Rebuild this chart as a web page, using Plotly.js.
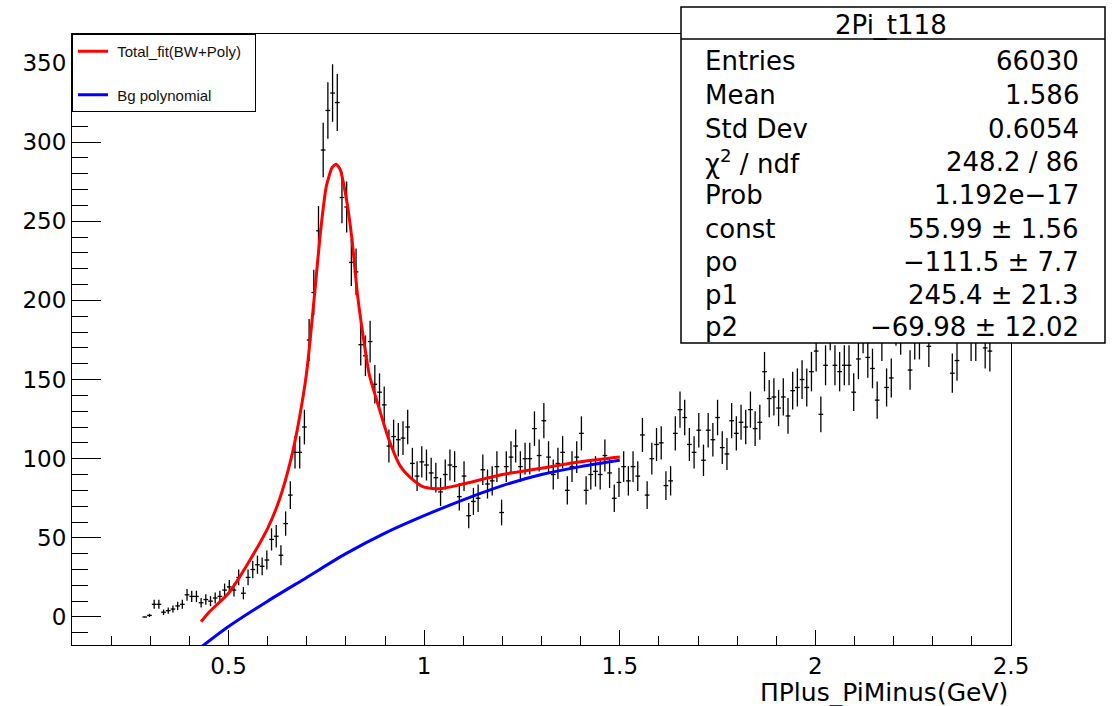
<!DOCTYPE html>
<html>
<head>
<meta charset="utf-8">
<script src="https://cdn.plot.ly/plotly-3.0.1.min.js"></script>
<style>
html,body{margin:0;padding:0;background:#fff;}
#chart{width:1114px;height:706px;}
</style>
</head>
<body>
<div id="chart"></div>
<script>
// Histogram: first bin centre and bin width (fed to Plotly as x0/dx)
const binStart = 0.286;
const binWidth = 0.012;
// Bin contents (0.286 ... 2.446)
const counts = [
  0, 1, 8, 8, 3, 4, 5, 7, 8, 14,
  13, 13, 9, 11, 10, 12, 13, 17, 19, 17,
  25, 15, 25, 30, 33, 32, 36, 49, 51, 39,
  59, 77, 104, 104, 120, 175, 205, 244, 295, 320,
  331, 325, 265, 259, 224, 218, 172, 165, 174, 147,
  142, 134, 108, 114, 112, 113, 120, 97, 89, 98,
  96, 91, 88, 79, 90, 96, 95, 76, 89, 64,
  73, 75, 93, 84, 86, 95, 66, 95, 101, 108,
  95, 100, 100, 119, 102, 124, 101, 90, 97, 104,
  80, 95, 101, 116, 80, 90, 92, 90, 102, 91,
  75, 85, 95, 86, 95, 89, 115, 77, 100, 109,
  110, 83, 86, 116, 131, 126, 109, 104, 118, 99,
  118, 112, 126, 107, 103, 124, 116, 123, 120, 131,
  119, 123, 155, 138, 139, 132, 139, 127, 143, 145,
  150, 145, 155, 168, 128, 159, 182, 159, 155, 159,
  159, 142, 163, 180, 164, 157, 137, 175, 145, 151,
  185, 179, 195, 156, 176, 176, 195, 171, 200, 195,
  205, 190, 154, 162, 198, 192, 175, 175, 190, 170,
  168
];

// Total fit curve (BW + poly)
const fitX = [0.43, 0.45, 0.50, 0.55, 0.60, 0.63, 0.66, 0.68, 0.70, 0.72, 0.735, 0.75, 0.765, 0.775, 0.785, 0.80, 0.815, 0.83, 0.845, 0.86, 0.88, 0.91, 0.94, 0.97, 1.00, 1.04, 1.10, 1.20, 1.30, 1.40, 1.50];
const fitY = [-3, 3, 15, 34, 56, 74, 100, 124, 155, 204, 243, 272, 284, 286, 283, 266, 240, 203, 176, 153, 136, 112, 95, 87, 82, 81, 84, 90, 94, 98, 101];

// Background polynomial
const bgX = [0.43, 0.50, 0.60, 0.70, 0.80, 0.90, 1.00, 1.10, 1.20, 1.30, 1.40, 1.50];
const bgY = [-19, -6, 10, 25, 40, 53, 64, 74, 83, 90, 95, 99];

// Legend / stats texts
const legendNames = ['Total_fit(BW+Poly)', 'Bg polynomial'];
const statsTitle = '2Pi_t118';
const statsLabels = ['Entries', 'Mean', 'Std Dev', 'χ<sup>2</sup> / ndf', 'Prob', 'const', 'po', 'p1', 'p2'];
const statsValues = ['66030', '1.586', '0.6054', '248.2 / 86', '1.192e−17', '55.99 ± 1.56', '−111.5 ± 7.7', '245.4 ± 21.3', '−69.98 ± 12.02'];
const xTitle = 'ΠPlus_PiMinus(GeV)';

const FONT = 'DejaVu Sans, Liberation Sans, Arial, sans-serif';
const LFONT = 'Liberation Sans, Arial, sans-serif';

const traces = [
  {
    type: 'scatter', mode: 'markers',
    y: counts, x0: binStart, dx: binWidth,
    marker: {size: 1, color: 'black'},
    error_y: {type: 'sqrt', color: 'black', thickness: 1.3, width: 0},
    error_x: {type: 'constant', value: binWidth / 2, color: 'black', thickness: 1.3, width: 0},
    showlegend: false, hoverinfo: 'x+y'
  },
  {
    type: 'scatter', mode: 'lines', x: bgX, y: bgY,
    line: {color: '#0000ff', width: 3, shape: 'spline', smoothing: 0.8},
    name: '\u00a0' + legendNames[1], legendgroup: 'b', legendrank: 2
  },
  {
    type: 'scatter', mode: 'lines', x: fitX, y: fitY,
    line: {color: '#ff0000', width: 3, shape: 'spline', smoothing: 0.6},
    name: '\u00a0' + legendNames[0] + '\u00a0\u00a0', legendgroup: 'a', legendrank: 1
  }
];

// plot-area geometry in pixels (for placing the stats box)
const L = 72, R = 1011, T = 34, B = 645;
const px = v => (v - L) / (R - L);
const py = v => (B - v) / (B - T);

const shapes = [
  {type: 'rect', xref: 'paper', yref: 'paper', x0: px(681), x1: px(1105), y0: py(343), y1: py(7),
   fillcolor: 'white', line: {color: 'black', width: 1.5}, layer: 'above'},
  {type: 'line', xref: 'paper', yref: 'paper', x0: px(681), x1: px(1105), y0: py(39), y1: py(39),
   line: {color: 'black', width: 1.5}, layer: 'above'}
];

const rowY = [59, 93, 127, 160, 193, 227, 260, 293, 325];
const annotations = [
  {xref: 'paper', yref: 'paper', x: px(891), y: py(25), text: statsTitle, showarrow: false,
   xanchor: 'center', yanchor: 'middle', font: {family: FONT, size: 26, color: 'black'}},
  {xref: 'paper', yref: 'paper', x: px(1010), y: py(692), text: xTitle, showarrow: false,
   xanchor: 'right', yanchor: 'middle', font: {family: FONT, size: 25, color: 'black'}}
];
statsLabels.forEach((t, i) => {
  annotations.push({xref: 'paper', yref: 'paper', x: px(703), y: py(rowY[i] + 2), text: t, showarrow: false,
    xanchor: 'left', yanchor: 'middle', font: {family: FONT, size: 26, color: 'black'}});
  annotations.push({xref: 'paper', yref: 'paper', x: px(1081), y: py(rowY[i] + 2), text: statsValues[i], showarrow: false,
    xanchor: 'right', yanchor: 'middle', font: {family: FONT, size: 26, color: 'black'}});
});

const axisCommon = {
  ticks: 'inside', tickcolor: 'black', tickwidth: 1,
  showline: true, linecolor: 'black', linewidth: 1, mirror: true,
  showgrid: false, zeroline: false,
  tickfont: {family: FONT, size: 23, color: 'black'}
};

const layout = {
  width: 1114, height: 706,
  margin: {l: L, r: 1114 - R, t: T, b: 706 - B, pad: 0},
  paper_bgcolor: 'white', plot_bgcolor: 'white',
  showlegend: true,
  legend: {x: 0, y: 1, xanchor: 'left', yanchor: 'top', bgcolor: 'white',
           bordercolor: 'black', borderwidth: 1, traceorder: 'grouped', tracegroupgap: 21,
           font: {family: LFONT, size: 15, color: '#111'}, itemwidth: 30},
  xaxis: Object.assign({}, axisCommon, {
    range: [0.1, 2.5], tick0: 0, dtick: 0.5, ticklen: 15,
    minor: {dtick: 0.1, tick0: 0, ticks: 'inside', ticklen: 9, tickcolor: 'black', showgrid: false}
  }),
  yaxis: Object.assign({}, axisCommon, {
    range: [-17.7, 368.3], tick0: 0, dtick: 50, ticklen: 29,
    minor: {dtick: 10, tick0: 0, ticks: 'inside', ticklen: 16, tickcolor: 'black', showgrid: false}
  }),
  shapes: shapes,
  annotations: annotations
};

Plotly.newPlot('chart', traces, layout, {displayModeBar: false, staticPlot: true});
</script>
</body>
</html>
